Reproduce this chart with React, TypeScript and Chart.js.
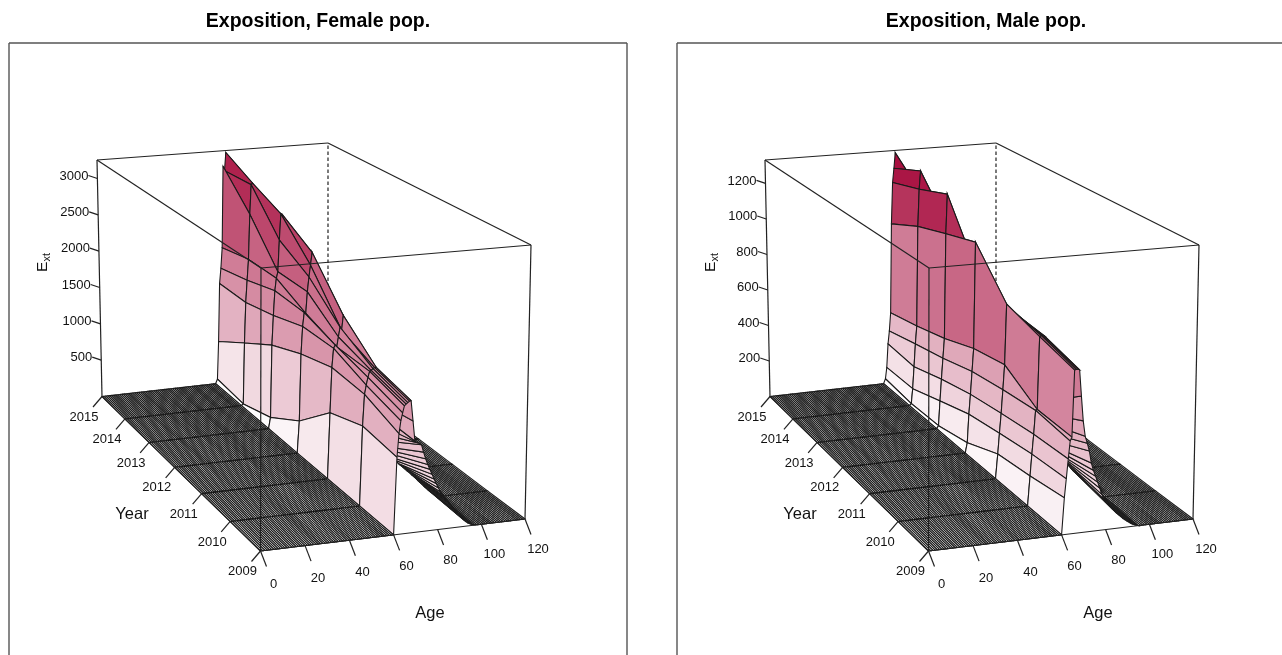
import React, { useEffect, useRef } from "react";
import { Chart, registerables } from "chart.js";

Chart.register(...registerables);

const years = [2015, 2014, 2013, 2012, 2011, 2010, 2009];
const yearTicks = [2009, 2010, 2011, 2012, 2013, 2014, 2015];
const ageTicks = [0, 20, 40, 60, 80, 100, 120];
const femaleTicks = [500, 1000, 1500, 2000, 2500, 3000];
const maleTicks = [200, 400, 600, 800, 1000, 1200];

const ages = [
  0, 1, 2, 3, 4, 5, 6, 7, 8, 9, 10, 11, 12, 13, 14, 15, 16, 17, 18, 19, 20, 21, 22, 23, 24, 25, 26, 27, 28, 29, 30,
  31, 32, 33, 34, 35, 36, 37, 38, 39, 40, 41, 42, 43, 44, 45, 46, 47, 48, 49, 50, 51, 52, 53, 54, 55, 56, 57, 58, 59, 60,
  61, 61.75, 62.5, 63.25, 64, 64.75, 65.5, 66.25, 67,
  68, 69, 70, 71, 72, 73, 74, 75, 76, 77, 78, 79, 80, 81, 82, 83, 84, 85, 86, 87, 88, 89, 90,
  91, 92, 93, 94, 95, 96, 97, 98, 99, 100, 101, 102, 103, 104, 105, 106, 107, 108, 109, 110,
  111, 112, 113, 114, 115, 116, 117, 118, 119, 120,
];

// Exposure by age, one value per entry of `years`; every age not listed is 0.
const femaleExposure: Record<string, number[]> = {
  "61": [62, 20, 146, 407, 818, 962, 902],
  "61.75": [586, 847, 1100, 1266, 1380, 1341, 1177],
  "62.5": [1397, 1397, 1489, 1617, 1616, 1450, 1326],
  "63.25": [1609, 1698, 1815, 1793, 1655, 1544, 1417],
  "64": [1895, 1981, 1978, 1781, 1631, 1613, 1496],
  "64.75": [3037, 2595, 2063, 2056, 1752, 1622, 1516],
  "65.5": [2974, 2996, 2481, 2245, 1872, 1643, 1531],
  "66.25": [3227, 3014, 2825, 2395, 1832, 1652, 1546],
  "67": [2676, 2775, 2815, 2559, 2015, 1655, 1549],
  "68": [2520, 2600, 2560, 2380, 1880, 1240, 1310],
  "69": [2470, 2550, 2520, 2330, 1850, 1085, 1072],
  "70": [2420, 2500, 2480, 2280, 1810, 940, 1050],
  "71": [2370, 2450, 2440, 2230, 1770, 830, 1040],
  "72": [2320, 2400, 2400, 2190, 1730, 750, 1020],
  "73": [2270, 2350, 2360, 2140, 1690, 675, 930],
  "74": [2220, 2300, 2320, 2095, 1650, 630, 850],
  "75": [2170, 2250, 2280, 2050, 1610, 580, 780],
  "76": [2110, 2190, 2230, 1990, 1570, 530, 720],
  "77": [2050, 2130, 2180, 1940, 1530, 495, 660],
  "78": [1990, 2070, 2130, 1880, 1490, 460, 600],
  "79": [1930, 2010, 2080, 1830, 1450, 435, 545],
  "80": [1870, 1950, 2030, 1780, 1400, 410, 490],
  "81": [1810, 1890, 1970, 1720, 1360, 385, 440],
  "82": [1750, 1830, 1910, 1660, 1320, 360, 400],
  "83": [1690, 1770, 1850, 1610, 1285, 340, 365],
  "84": [1620, 1700, 1790, 1550, 1245, 310, 330],
  "85": [1550, 1630, 1720, 1490, 1190, 285, 295],
  "86": [1470, 1550, 1640, 1420, 1130, 260, 260],
  "87": [1390, 1470, 1560, 1350, 1070, 230, 230],
  "88": [1300, 1380, 1470, 1270, 1000, 205, 200],
  "89": [1200, 1280, 1370, 1180, 920, 180, 175],
  "90": [1090, 1170, 1260, 1080, 830, 150, 140],
  "91": [970, 1050, 1140, 970, 730, 125, 105],
  "92": [840, 920, 1010, 850, 620, 97, 75],
  "93": [710, 780, 860, 720, 510, 75, 50],
  "94": [570, 640, 710, 590, 400, 55, 30],
  "95": [440, 500, 560, 460, 300, 38, 18],
  "96": [320, 370, 420, 340, 210, 25, 8],
  "97": [210, 250, 290, 230, 130, 15, 3],
  "98": [120, 150, 170, 130, 70, 8, 0],
  "99": [60, 70, 80, 60, 30, 3, 0],
  "100": [20, 25, 30, 20, 10, 0, 0],
};

const maleExposure: Record<string, number[]> = {
  "61": [27, 10, 15, 53, 125, 147, 176],
  "61.75": [91, 92, 148, 202, 230, 254, 266],
  "62.5": [225, 213, 265, 305, 330, 351, 360],
  "63.25": [298, 340, 377, 424, 450, 468, 445],
  "64": [402, 439, 484, 544, 576, 472, 463],
  "64.75": [912, 994, 1050, 1103, 885, 831, 783],
  "65.5": [1149, 1201, 1264, 945, 872, 835, 785],
  "66.25": [1230, 1302, 1083, 917, 860, 835, 785],
  "67": [1319, 1168, 1066, 900, 849, 832, 782],
  "68": [1090, 1100, 1040, 880, 835, 508, 655],
  "69": [1060, 1075, 1020, 865, 820, 444, 535],
  "70": [1030, 1050, 1000, 850, 805, 394, 460],
  "71": [1010, 1025, 985, 835, 795, 345, 426],
  "72": [985, 1000, 970, 825, 785, 306, 387],
  "73": [965, 980, 950, 815, 775, 276, 328],
  "74": [940, 955, 935, 805, 765, 256, 292],
  "75": [920, 935, 920, 795, 755, 237, 263],
  "76": [900, 915, 905, 785, 745, 222, 233],
  "77": [880, 895, 890, 775, 735, 207, 203],
  "78": [860, 875, 875, 765, 725, 192, 172],
  "79": [840, 855, 860, 755, 715, 177, 148],
  "80": [820, 835, 845, 745, 705, 163, 137],
  "81": [800, 815, 825, 730, 690, 150, 121],
  "82": [775, 790, 800, 710, 670, 139, 108],
  "83": [750, 765, 775, 690, 650, 128, 95],
  "84": [720, 735, 745, 665, 625, 118, 84],
  "85": [690, 705, 715, 635, 595, 108, 72],
  "86": [655, 670, 680, 600, 560, 98, 62],
  "87": [615, 630, 640, 560, 520, 87, 52],
  "88": [570, 585, 595, 515, 475, 76, 42],
  "89": [520, 535, 545, 465, 425, 65, 34],
  "90": [465, 480, 490, 410, 370, 54, 26],
  "91": [405, 420, 430, 355, 315, 44, 19],
  "92": [345, 360, 365, 295, 260, 35, 13],
  "93": [280, 295, 300, 235, 205, 23, 8],
  "94": [220, 230, 235, 180, 150, 12, 4],
  "95": [160, 170, 175, 125, 105, 5, 0],
  "96": [110, 115, 120, 85, 65, 0, 0],
  "97": [70, 75, 75, 50, 35, 0, 0],
  "98": [35, 40, 40, 25, 15, 0, 0],
  "99": [15, 15, 15, 10, 5, 0, 0],
  "100": [5, 5, 5, 0, 0, 0, 0],
};

// Projection: where the corners of the persp box fall, in the panel's scale units.
type P = [number, number];
const floorCorners: P[] = [[260.5, 551], [525, 519], [328, 371], [102, 396.5]];
const topCorners: P[] = [[261, 268], [531, 245], [328, 143], [97, 160]];
const AGE_MAX = 120;

function makeQuad(q: P[]) {
  const [[x0, y0], [x1, y1], [x2, y2], [x3, y3]] = q;
  const dx1 = x1 - x2, dx2 = x3 - x2, sx = x0 - x1 + x2 - x3;
  const dy1 = y1 - y2, dy2 = y3 - y2, sy = y0 - y1 + y2 - y3;
  const den = dx1 * dy2 - dx2 * dy1;
  const g = (sx * dy2 - dx2 * sy) / den;
  const h = (dx1 * sy - sx * dy1) / den;
  const a = x1 - x0 + g * x1, b = x3 - x0 + h * x3;
  const d = y1 - y0 + g * y1, e = y3 - y0 + h * y3;
  return (u: number, v: number): P => {
    const w = g * u + h * v + 1;
    return [(a * u + b * v + x0) / w, (d * u + e * v + y0) / w];
  };
}
const floorQ = makeQuad(floorCorners);
const topQ = makeQuad(topCorners);

function projector(zMax: number) {
  return (age: number, year: number, z: number) => {
    const u = age / AGE_MAX, v = (year - 2009) / 6, t = z / zMax;
    const f = floorQ(u, v), c = topQ(u, v);
    return { x: f[0] + (c[0] - f[0]) * t, y: f[1] + (c[1] - f[1]) * t };
  };
}

const LOW = [255, 255, 255];
const HIGH = [168, 16, 64];
function shade(t: number) {
  const k = Math.min(1, t);
  const c = LOW.map((l, i) => Math.round(l + (HIGH[i] - l) * k));
  return `rgb(${c[0]},${c[1]},${c[2]})`;
}

const INK = "#222";
const FONT = "'Liberation Sans', Arial, sans-serif";

function line(data: { x: number; y: number }[], extra: object = {}) {
  return { data, showLine: true, fill: false, pointRadius: 0, borderColor: INK, borderWidth: 1.2, ...extra };
}

function buildDatasets(table: Record<string, number[]>, zMax: number, zColor: number, zTicks: number[]) {
  const pr = projector(zMax);
  const value = (a: number, yi: number) => (table[String(a)] ? table[String(a)][yi] : 0);
  const ds: any[] = [];
  const corner = (a: number, y: number, z: number) => pr(a, y, z);

  // front of the box, on top of everything
  const front: [number, number, number, number, number, number][] = [
    [0, 2009, 0, AGE_MAX, 2009, 0],
    [0, 2009, 0, 0, 2015, 0],
    [0, 2009, 0, 0, 2009, zMax],
    [AGE_MAX, 2009, 0, AGE_MAX, 2009, zMax],
    [0, 2015, 0, 0, 2015, zMax],
    [0, 2009, zMax, AGE_MAX, 2009, zMax],
    [0, 2009, zMax, 0, 2015, zMax],
    [0, 2015, zMax, AGE_MAX, 2015, zMax],
    [AGE_MAX, 2015, zMax, AGE_MAX, 2009, zMax],
  ];
  front.forEach(([a, y, z, b, w, q]) => ds.push(line([corner(a, y, z), corner(b, w, q)])));

  // tick marks
  ageTicks.forEach((a) => {
    const p = corner(a, 2009, 0);
    ds.push(line([p, { x: p.x + 6, y: p.y + 15.5 }]));
  });
  yearTicks.forEach((y) => {
    const p = corner(0, y, 0);
    ds.push(line([p, { x: p.x - 9, y: p.y + 10.5 }]));
  });
  zTicks.forEach((z) => {
    const p = corner(0, 2015, z);
    ds.push(line([p, { x: p.x - 9, y: p.y - 3 }]));
  });

  // panel frame
  ds.push(line([{ x: 9, y: 43 }, { x: 627, y: 43 }], { borderWidth: 1.4, borderColor: "#555" }));
  ds.push(line([{ x: 9, y: 43 }, { x: 9, y: 655 }], { borderWidth: 1.4, borderColor: "#555" }));
  ds.push(line([{ x: 627, y: 43 }, { x: 627, y: 655 }], { borderWidth: 1.4, borderColor: "#555" }));

  // surface, nearest facet first: the first dataset is painted last
  for (let i = 0; i < ages.length - 1; i++) {
    for (let j = years.length - 1; j > 0; j--) {
      const a0 = ages[i], a1 = ages[i + 1];
      const y0 = years[j], y1 = years[j - 1];
      const z00 = value(a0, j), z10 = value(a1, j), z11 = value(a1, j - 1), z01 = value(a0, j - 1);
      const mean = (z00 + z10 + z11 + z01) / 4;
      const pts = [pr(a0, y0, z00), pr(a1, y0, z10), pr(a1, y1, z11), pr(a0, y1, z01), pr(a0, y0, z00)];
      ds.push(line(pts, {
        fill: "shape",
        backgroundColor: shade(mean / zColor),
        borderColor: "#1a1a1a",
        borderWidth: 1.08,
        tension: 0,
      }));
    }
  }

  // hidden back edge, behind the surface
  ds.push(line([corner(AGE_MAX, 2015, 0), corner(AGE_MAX, 2015, zMax)], { borderDash: [3.5, 2.5] }));
  return ds;
}

function Panel({ title, table, zMax, zColor, zTicks, left }: any) {
  const ref = useRef<HTMLCanvasElement>(null);
  useEffect(() => {
    const pr = projector(zMax);
    const labels = {
      id: "axisText",
      afterDraw(chart: any) {
        const { ctx, scales } = chart;
        const X = (v: number) => scales.x.getPixelForValue(v);
        const Y = (v: number) => scales.y.getPixelForValue(v);
        ctx.save();
        ctx.fillStyle = "#111";
        ctx.textBaseline = "middle";
        ctx.textAlign = "center";
        ctx.font = `13px ${FONT}`;
        ageTicks.forEach((a) => {
          const p = pr(a, 2009, 0);
          ctx.fillText(String(a), X(p.x + 13), Y(p.y + 33 - (a / AGE_MAX) * 3));
        });
        yearTicks.forEach((y) => {
          const p = pr(0, y, 0);
          ctx.fillText(String(y), X(p.x - 18), Y(p.y + 20.5));
        });
        ctx.textAlign = "right";
        zTicks.forEach((z: number) => {
          const p = pr(0, 2015, z);
          ctx.fillText(String(z), X(p.x - 9), Y(p.y - 2.5));
        });
        ctx.textAlign = "center";
        ctx.font = `16.5px ${FONT}`;
        ctx.fillText("Year", X(132), Y(514.5));
        ctx.fillText("Age", X(430), Y(613));
        ctx.translate(X(47), Y(272));
        ctx.rotate(-Math.PI / 2);
        ctx.textAlign = "left";
        ctx.textBaseline = "alphabetic";
        ctx.font = `15.5px ${FONT}`;
        ctx.fillText("E", 0, 0);
        ctx.font = `11px ${FONT}`;
        ctx.fillText("xt", 10.5, 3);
        ctx.restore();
      },
    };
    const chart = new Chart(ref.current!, {
      type: "scatter",
      data: { datasets: buildDatasets(table, zMax, zColor, zTicks) },
      options: {
        animation: false,
        responsive: false,
        events: [],
        layout: { padding: 0 },
        plugins: {
          legend: { display: false },
          tooltip: { enabled: false },
          title: {
            display: true,
            text: title,
            color: "#000",
            font: { family: FONT, size: 19.5, weight: "bold", lineHeight: 1.2 },
            padding: { top: 9.5, bottom: 7.1 },
          },
        },
        scales: {
          x: { type: "linear", display: false, min: 0, max: 636 },
          y: { type: "linear", display: false, min: 40, max: 655, reverse: true },
        },
      },
      plugins: [labels],
    } as any);
    return () => chart.destroy();
  }, []);
  return (
    <canvas
      ref={ref}
      width={636}
      height={655}
      style={{ position: "absolute", left, top: 0, width: 636, height: 655, display: "block" }}
    />
  );
}

export default function App() {
  return (
    <div style={{ position: "fixed", left: 0, top: 0, width: 1282, height: 655, overflow: "hidden", background: "#fff" }}>
      <Panel title="Exposition, Female pop." table={femaleExposure} zMax={3255} zColor={3300} zTicks={femaleTicks} left={0} />
      <Panel title="Exposition, Male pop." table={maleExposure} zMax={1332} zColor={1250} zTicks={maleTicks} left={668} />
    </div>
  );
}
